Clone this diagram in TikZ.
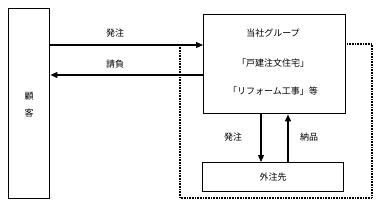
\documentclass[tikz,border=0pt]{standalone}
\usepackage{fontspec}
\newfontfamily\jp{Noto Sans CJK JP}
\usetikzlibrary{arrows.meta}
\begin{document}
\begin{tikzpicture}[x=1pt,y=-1pt,
  boxst/.style={draw,line width=1.4pt,inner sep=0pt,anchor=north west},
  arr/.style={line width=1.1pt,-{Triangle[length=7pt,width=6pt]}},
  lbl/.style={font=\jp\fontsize{9}{10}\selectfont,inner sep=0pt},
  dots/.style={line width=1.2pt,dash pattern=on 0.8pt off 0.8pt}]
\useasboundingbox (0,0) rectangle (380,206);
\node[boxst,minimum width=41pt,minimum height=190pt] (cust) at (8,8) {};
\node[lbl,align=center] at (29,105) {顧\\[7pt]客};
\node[boxst,minimum width=142pt,minimum height=99pt] (main) at (203,14) {};
\node[lbl] (t1) at (273,33) {当社グループ};
\node[lbl] (t2) at (273,63) {「戸建注文住宅」};
\node[lbl] (t3) at (273,91) {「リフォーム工事」等};
\node[boxst,minimum width=141pt,minimum height=29pt] (sub) at (202,162) {};
\node[lbl] at (sub.center) {外注先};
\coordinate (y1) at (0,45);
\coordinate (y2) at (0,75);
\draw[arr] (cust.east |- y1) -- (main.west |- y1);
\draw[arr] (main.west |- y2) -- (cust.east |- y2);
\node[lbl] (l1) at (115,33) {発注};
\node[lbl] (l2) at (115,64) {請負};
\coordinate (xd) at (261,0);
\coordinate (xu) at (288,0);
\draw[arr] (main.south -| xd) -- (sub.north -| xd);
\draw[arr] (sub.north -| xu) -- (main.south -| xu);
\node[lbl] (l3) at (233,137) {発注};
\node[lbl] (l4) at (309,137) {納品};
\coordinate (d0) at (180,45);
\coordinate (d1) at (180,198);
\coordinate (d2) at (372,198);
\coordinate (d3) at (372,44);
\draw[dots] (d0) -- (d1) -- (d2) -- (d3) -- (main.east |- d3);
\end{tikzpicture}
\end{document}
